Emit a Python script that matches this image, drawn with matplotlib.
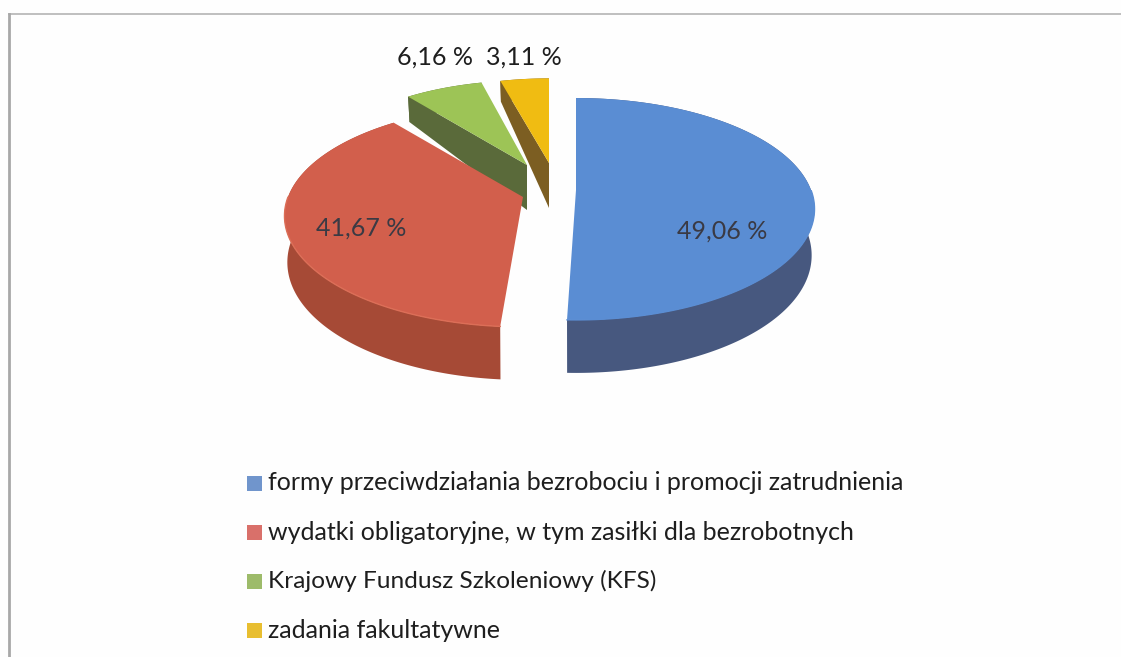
"""
Exploded 3D style pie of labour fund spending
"""

import numpy as np
import matplotlib
matplotlib.use("Agg")
import matplotlib.pyplot as plt
from matplotlib.patches import Polygon, Rectangle

# data
categories = ["formy przeciwdziałania bezrobociu i promocji zatrudnienia",
              "wydatki obligatoryjne, w tym zasiłki dla bezrobotnych",
              "Krajowy Fundusz Szkoleniowy (KFS)",
              "zadania fakultatywne"]
shares = [49.06, 41.67, 6.16, 3.11]
share_labels = ["49,06 %", "41,67 %", "6,16 %", "3,11 %"]

# styles
top_colors = ["#5A8DD3", "#D25F4C", "#9DC456", "#F0BC12"]
side_colors = ["#47587F", "#A64A36", "#5A6A3A", "#7C5E22"]
rim_colors = ["#5A8DD3", "#DC6E57", "#9DC456", "#F0BC12"]
legend_colors = ["#7095CC", "#D9706A", "#9DBB6A", "#E8BE30"]
legend_size = [18, 18, 17.6, 18]
apex_x = [576, 523, 527, 549]
apex_y = [190, 197, 165, 163]
scale = [1.0, 1.0, 0.92, 0.92]
# the drawn pie is skewed by the view, so slice edges get nudged (degrees)
start_shift = [0, 8.0, -5.2, -4]
end_shift = [5.2, -5.2, -3, 0]
cut_visible = [False, False, True, True]
label_pos = [(722, 231), (361, 228), (435, 57), (524, 57)]
legend_y = [483, 532, 581, 630]

RX = 235.
RY = 107.7
PERSP = 0.171
BOTTOM_SHRINK = 0.988


def project(t, i):
    """Pie angle (clockwise from top, degrees) to pixel position, top and bottom face"""
    u, v = np.sin(np.radians(t)), np.cos(np.radians(t))
    w = 1 + PERSP * v
    x = apex_x[i] + scale[i] * RX * u / w
    y = apex_y[i] - scale[i] * RY * v / w
    x_bot = apex_x[i] + (x - apex_x[i]) * BOTTOM_SHRINK
    y_bot = y + np.interp(v, [-1, 0, 1], [53, 45, 20])
    return x, y, x_bot, y_bot


def main():
    fig = plt.figure(figsize=(11.21, 6.57), dpi=100, facecolor="#FEFEFE")
    ax = fig.add_axes([0, 0, 1, 1])
    ax.set_xlim(0, 1121)
    ax.set_ylim(657, 0)
    ax.axis("off")
    plt.rcParams["font.family"] = ["Lato", "DejaVu Sans"]

    # frame of the scanned chart
    ax.plot([9, 1121], [14, 14], color="#B4B4B4", lw=1.2)
    ax.plot([9, 9], [14, 657], color="#A8A8A8", lw=2.0)

    edges = np.cumsum([0] + shares) / np.sum(shares) * 360.

    # back slices first so red overlaps the green side
    for i in [3, 2, 1, 0]:
        t0 = edges[i] + start_shift[i]
        t1 = edges[i + 1] + end_shift[i]
        t = np.linspace(t0, t1, 200)
        x, y_top, x_bot, y_bot = project(t, i)

        side = np.column_stack([np.r_[x, x_bot[::-1]], np.r_[y_top, y_bot[::-1]]])
        ax.add_patch(Polygon(side, closed=True, fc=side_colors[i], ec="none"))

        if cut_visible[i]:
            cut = [(apex_x[i], apex_y[i]), (x[0], y_top[0]), (x_bot[0], y_bot[0]),
                   (apex_x[i], apex_y[i] + 45)]
            ax.add_patch(Polygon(cut, closed=True, fc=side_colors[i], ec="none"))

        top = np.column_stack([np.r_[apex_x[i], x], np.r_[apex_y[i], y_top]])
        ax.add_patch(Polygon(top, closed=True, fc=top_colors[i], ec="none"))

        # faint light rim where the top meets the side
        near = np.cos(np.radians(t)) < 0
        ax.plot(x[near], y_top[near], color=rim_colors[i], lw=1.0)

    for i, lab in enumerate(share_labels):
        col = "#1E1E1E" if i > 1 else "#3A3A44"
        ax.text(label_pos[i][0], label_pos[i][1], lab, ha="center", va="center",
                fontsize=18, color=col)

    for i, cat in enumerate(categories):
        ax.add_patch(Rectangle((247, legend_y[i] - 7), 15, 15, fc=legend_colors[i], ec="none"))
        ax.text(268, legend_y[i], cat, ha="left", va="center", fontsize=legend_size[i], color="#1E1E1E")

    fig.savefig("out.png", dpi=100, facecolor=fig.get_facecolor())


if __name__ == "__main__":
    main()
